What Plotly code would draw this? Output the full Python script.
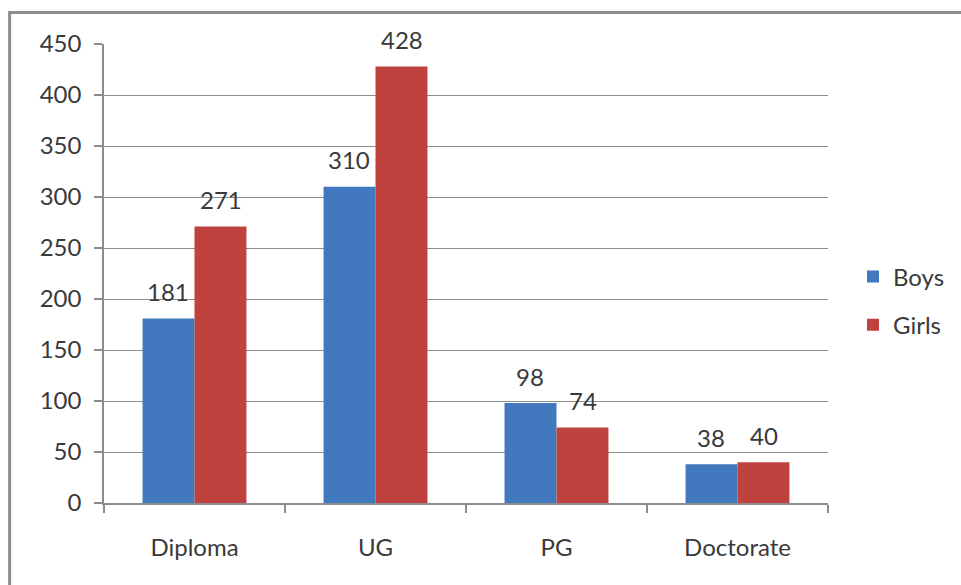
import plotly.graph_objects as go

# Enrolment by programme level
categories = ["Diploma", "UG", "PG", "Doctorate"]
boys = [181, 310, 98, 38]
girls = [271, 428, 74, 40]

BLUE = "#4178be"
RED = "#c0423f"
GRID = "#8c8c8c"
TEXT = "#3a3a3a"
FONT = "Lato"

W, H = 961, 585
L, R, T, B = 104, 132, 44, 82
plot_w = W - L - R
plot_h = H - T - B

fig = go.Figure()
fig.add_trace(go.Bar(name="Boys", x=categories, y=boys, marker_color=BLUE,
                     marker_line_width=0, legendgroup="b"))
fig.add_trace(go.Bar(name="Girls", x=categories, y=girls, marker_color=RED,
                     marker_line_width=0, legendgroup="g"))

# value labels above each bar
bar_px = plot_w / len(categories) * (1 - 0.426) / 2
for series, shift in ((boys, -bar_px / 2), (girls, bar_px / 2)):
    for cat, val in zip(categories, series):
        fig.add_annotation(x=cat, y=val, text=str(val), showarrow=False,
                           xshift=shift, yshift=27, yanchor="middle",
                           font=dict(family=FONT, size=24, color=TEXT))

def px_x(p):
    return (p - L) / plot_w

def px_y(p):
    return (H - B - p) / plot_h

# outer chart frame
fig.add_shape(type="rect", xref="paper", yref="paper",
              x0=px_x(9.5), x1=px_x(975), y0=px_y(12.5), y1=px_y(600),
              line=dict(color="#8c8c8c", width=3), layer="below")

fig.update_layout(
    width=W, height=H,
    margin=dict(l=L, r=R, t=T, b=B),
    paper_bgcolor="white", plot_bgcolor="white",
    barmode="group", bargap=0.426, bargroupgap=0,
    font=dict(family=FONT, size=24, color=TEXT),
    showlegend=True,
    legend=dict(x=px_x(853), xanchor="left", y=px_y(301), yanchor="middle",
                tracegroupgap=14, font=dict(family=FONT, size=24, color=TEXT),
                bgcolor="rgba(0,0,0,0)", itemsizing="constant"),
)
fig.update_xaxes(showline=True, linecolor=GRID, linewidth=1.5,
                 ticks="outside", tickson="boundaries", ticklen=8,
                 tickcolor=GRID, tickwidth=1.5, showgrid=False,
                 ticklabelstandoff=22, tickfont=dict(family=FONT, size=24, color=TEXT))
fig.update_yaxes(range=[0, 450], dtick=50, showline=True, linecolor=GRID,
                 linewidth=1.5, ticks="outside", ticklen=8, tickcolor=GRID,
                 tickwidth=1.5, showgrid=True, gridcolor=GRID, gridwidth=1,
                 zeroline=False, ticklabelstandoff=8,
                 tickfont=dict(family=FONT, size=24, color=TEXT))

fig.write_html("out.html")
